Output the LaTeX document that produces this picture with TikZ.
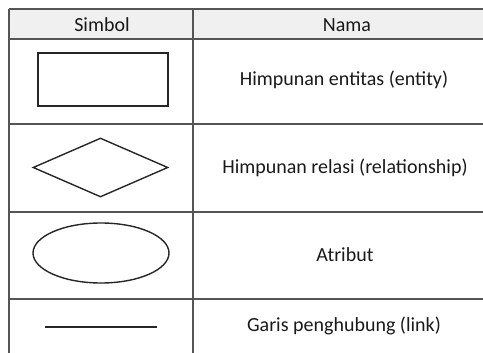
\documentclass[tikz,border=0pt]{standalone}
\usepackage{fontspec}
\setmainfont{Carlito}
\usetikzlibrary{shapes.geometric}
\definecolor{gridgray}{HTML}{555555}
\definecolor{headgray}{HTML}{F0F0F0}

\begin{document}
\begin{tikzpicture}[x=1pt, y=-1pt,
	sym/.style={draw=black!85, line width=1.4pt, inner sep=0pt},
	cell/.style={font=\fontsize{20}{22}\selectfont, text=black!90}]
			%%%%% START %%%%%
			\useasboundingbox (0, 0) rectangle (483, 353);
			
			\fill[headgray] (9, 9) rectangle (483, 39);
			
			\draw[gridgray, line width=1.1pt] (9, 9) -- (483, 9);
			\draw[gridgray, line width=1.1pt] (9, 39) -- (483, 39);
			\draw[gridgray, line width=1.1pt] (9, 124) -- (483, 124);
			\draw[gridgray, line width=1.1pt] (9, 212) -- (483, 212);
			\draw[gridgray, line width=1.1pt] (9, 299) -- (483, 299);
			\draw[gridgray, line width=1.1pt] (9, 9) -- (9, 353);
			\draw[gridgray, line width=1.1pt] (193, 9) -- (193, 353);
			
			\node[cell] (simbol) at (102, 25) {Simbol};
			\node[cell] (nama) at (347, 25) {Nama};
			
			\node[sym, rectangle, minimum width=130, minimum height=53] (entity) at (103, 79.5) {};
			\node[cell] (entitytext) at (344, 80) {Himpunan entitas (entity)};
			
			\node[sym, diamond, minimum width=135, minimum height=59] (relasi) at (100.5, 167.5) {};
			\node[cell] (relasitext) at (345, 168) {Himpunan relasi (relationship)};
			
			\node[sym, ellipse, minimum width=136, minimum height=60] (atribut) at (101, 253) {};
			\node[cell] (atributtext) at (345, 255) {Atribut};
			
			\coordinate (linkA) at (45, 327);
			\coordinate (linkB) at (157, 327);
			\draw[line width=1.4pt, black!85] (linkA) -- (linkB);
			\node[cell] (linktext) at (344, 326) {Garis penghubung (link)};
			
			%%%%% END %%%%%
\end{tikzpicture}
\end{document}
